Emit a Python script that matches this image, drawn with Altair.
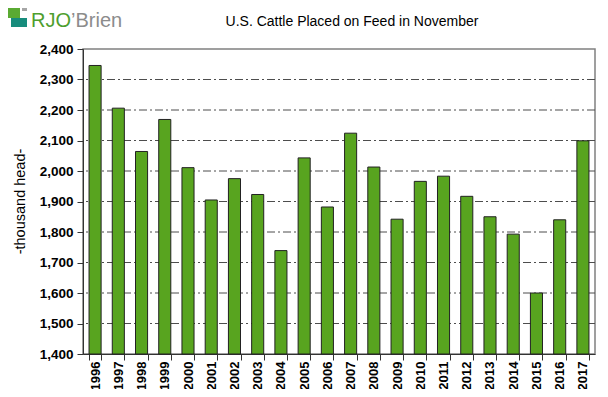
import altair as alt
import pandas as pd

years = [str(y) for y in range(1996, 2018)]
placements = [2346, 2206, 2064, 2169, 2011, 1905, 1975, 1923, 1739, 2043, 1882,
              2124, 2013, 1842, 1966, 1983, 1917, 1850, 1793, 1600, 1840, 2099]
y_ticks = [1400, 1500, 1600, 1700, 1800, 1900, 2000, 2100, 2200, 2300, 2400]
grid_values = [1500, 1600, 1700, 1800, 1900, 2000, 2100, 2200, 2300]
chart_title = "U.S. Cattle Placed on Feed in November"

df = pd.DataFrame({"year": years, "value": placements})
grid_df = pd.DataFrame({"value": grid_values})
one = pd.DataFrame({"k": [0]})

FONT = "Liberation Sans"

yscale = alt.Scale(domain=[1400, 2400], nice=False, zero=False)
yaxis = alt.Axis(values=y_ticks, format=",.0f", grid=False, title="-thousand head-")

grid = alt.Chart(grid_df).mark_rule(
    color="#4d4d4d", strokeWidth=1, strokeDash=[8, 3, 2, 3]
).encode(y=alt.Y("value:Q", scale=yscale, axis=yaxis))

bars = alt.Chart(df).mark_bar(
    color="#58A41F", stroke="#222222", strokeWidth=1
).encode(
    x=alt.X(
        "year:O",
        scale=alt.Scale(paddingInner=0.48, paddingOuter=0.26),
        axis=alt.Axis(
            title=None, labelAngle=-90, labelAlign="right", labelBaseline="middle",
            tickBand="extent",
        ),
    ),
    y=alt.Y("value:Q", scale=yscale, axis=yaxis),
    y2=alt.Y2(datum=1400),
)

title_txt = alt.Chart(one).mark_text(
    text=chart_title, font=FONT, fontSize=14, color="#000000",
    align="center", baseline="middle",
).encode(x=alt.value(269), y=alt.value(-27))

logo_rj = alt.Chart(one).mark_text(
    text="RJO", font=FONT, fontSize=20,
    color="#4E9E2E", align="left", baseline="alphabetic"
).encode(x=alt.value(-52), y=alt.value(-22))
logo_b = alt.Chart(one).mark_text(
    text="\u2019Brien", font=FONT, fontSize=20, color="#8C8C8C",
    align="left", baseline="alphabetic"
).encode(x=alt.value(-12), y=alt.value(-22))
icon_green = alt.Chart(one).mark_rect(color="#5AAA32").encode(
    x=alt.value(-76), x2=alt.value(-63), y=alt.value(-43), y2=alt.value(-31))
icon_gray = alt.Chart(one).mark_rect(color="#A6A6A6").encode(
    x=alt.value(-61), x2=alt.value(-56), y=alt.value(-43), y2=alt.value(-38))
icon_teal = alt.Chart(one).mark_rect(color="#178C7C").encode(
    x=alt.value(-72), x2=alt.value(-56), y=alt.value(-31), y2=alt.value(-22))

chart = alt.layer(
    grid, bars, title_txt, logo_rj, logo_b, icon_green, icon_gray, icon_teal
).properties(
    width=512, height=305, background="white",
    autosize=alt.AutoSizeParams(type="none"),
    padding={"left": 75, "top": 41, "right": 5, "bottom": 35},
).configure_view(
    stroke="#808080", strokeWidth=1.5
).configure_axis(
    labelFont=FONT, labelFontWeight="bold", labelColor="#000000",
    tickSize=6, tickColor="#333333", domainColor="#333333",
    titleFont=FONT, titleColor="#000000", titleFontWeight="normal",
).configure_axisX(
    labelFontSize=13, labelPadding=1,
).configure_axisY(
    labelFontSize=13.5, labelPadding=4, titleFontSize=14.5, titleAngle=-90,
    titleX=-63, titleY=152, titleAlign="center", titleBaseline="middle",
)

chart.save("out.html", embed_options={"renderer": "svg", "actions": False})
